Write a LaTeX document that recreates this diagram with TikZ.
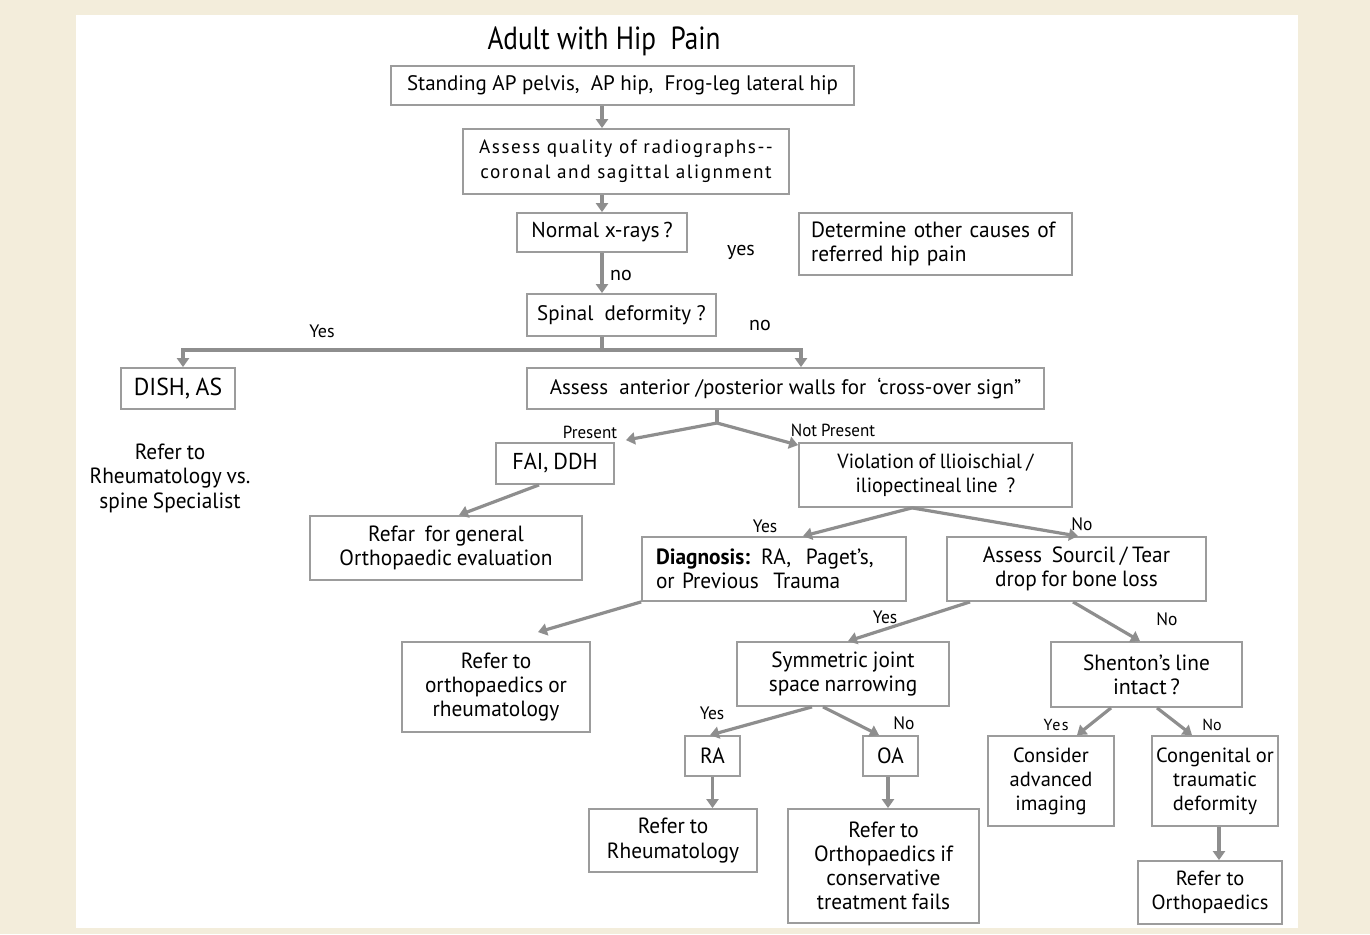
\documentclass[tikz,border=0pt]{standalone}
\usepackage{fontspec}
\setmainfont{PT Sans}
\newfontfamily\nf{PT Sans}
\newfontfamily\cf[FakeStretch=0.97,WordSpace=0.85]{PT Sans}
\newfontfamily\tf[FakeStretch=0.85]{PT Sans}
\newfontfamily\spf[LetterSpace=8]{PT Sans}
\usetikzlibrary{arrows.meta,calc}
\definecolor{bg}{HTML}{F3EDDB}
\definecolor{bord}{HTML}{9C9C9C}
\definecolor{arrc}{HTML}{8E8E8E}
\begin{document}
\begin{tikzpicture}[x=1pt,y=-1pt,
  box/.style={draw=bord, line width=1.8pt, inner sep=0pt, align=center,
    font=\nf\fontsize{21}{24.5}\selectfont},
  cbox/.style={box, font=\cf\fontsize{22}{24.2}\selectfont},
  arr/.style={draw=arrc, line width=3.2pt, -{Triangle[width=12pt,length=9pt]}},
  lin/.style={draw=arrc, line width=3.2pt},
  lab/.style={font=\cf\fontsize{18}{20}\selectfont, inner sep=0pt},
  nlab/.style={font=\nf\fontsize{20}{22}\selectfont, inner sep=0pt},
  plain/.style={font=\cf\fontsize{22}{24.5}\selectfont, align=center, inner sep=0pt}]
\fill[bg] (0,0) rectangle (1370,934);
\fill[white] (76,15) rectangle (1298,928);
\useasboundingbox (0,0) rectangle (1370,934);

\node[font=\tf\fontsize{32}{34}\selectfont, inner sep=0pt] (title) at (604,41) {Adult with Hip\ \ Pain};

\node[box, minimum width=463pt, minimum height=39pt] (n1) at (622.5,85.5)
  {Standing AP pelvis,\ \ AP hip,\ \ Frog-leg lateral hip};
\node[box, minimum width=326pt, minimum height=65pt, font=\spf\fontsize{19.2}{25}\selectfont] (n2) at (626,161.5)
  {Assess quality of radiographs--\\coronal and sagittal alignment};
\node[box, minimum width=170pt, minimum height=39pt, font=\nf\fontsize{21.5}{24}\selectfont] (n3) at (602,232.5) {Normal x-rays\,?};
\node[cbox, minimum height=62pt, text width=249pt, inner xsep=12pt, align=left] (n4) at (935.5,244)
  {Determine other causes of\\referred hip pain};
\node[box, minimum width=189pt, minimum height=42pt] (n5) at (621.5,315) {Spinal\ \ deformity ?};
\node[cbox, minimum width=114pt, minimum height=41pt, font=\cf\fontsize{24.5}{26}\selectfont] (n6) at (178,388.5) {DISH, AS};
\node[plain] (n7) at (170,478) {Refer to\\Rheumatology vs.\\spine Specialist};
\node[box, minimum width=517pt, minimum height=41pt] (n8) at (785.5,388.5)
  {Assess\ \ anterior /posterior walls for\ \ ‘cross-over sign”};
\node[cbox, minimum width=118pt, minimum height=41pt, font=\cf\fontsize{23}{25}\selectfont] (n9) at (555,463.5) {FAI, DDH};
\node[cbox, minimum width=273pt, minimum height=64pt, font=\cf\fontsize{20.5}{24.5}\selectfont] (n10) at (935.5,475)
  {Violation of llioischial /\\iliopectineal line\ \ ?};
\node[cbox, minimum width=272pt, minimum height=64pt] (n11) at (446,548)
  {Refar\ \ for general\\Orthopaedic evaluation};
\node[cbox, minimum height=64pt, text width=236pt, inner xsep=14pt, align=left] (n12) at (774,569)
  {\textbf{Diagnosis:} RA,\ \ Paget’s,\\or Previous\ \ Trauma};
\node[cbox, minimum width=259pt, minimum height=64pt] (n13) at (1076.5,569)
  {Assess\ \ Sourcil / Tear\\drop for bone loss};
\node[cbox, minimum width=188pt, minimum height=90pt] (n14) at (496,687)
  {Refer to\\orthopaedics or\\rheumatology};
\node[cbox, minimum width=212pt, minimum height=64pt] (n15) at (843,674)
  {Symmetric joint\\space narrowing};
\node[cbox, minimum width=191pt, minimum height=65pt] (n16) at (1146.5,674.5)
  {Shenton’s line\\{\nf intact\,?}};
\node[cbox, minimum width=55pt, minimum height=40pt] (n17) at (712.5,756) {RA};
\node[cbox, minimum width=55pt, minimum height=40pt] (n18) at (890.5,756) {OA};
\node[box, minimum width=126pt, minimum height=90pt, font=\nf\fontsize{20.5}{24}\selectfont] (n19) at (1051,781)
  {Consider\\advanced\\imaging};
\node[box, minimum width=126pt, minimum height=90pt, font=\nf\fontsize{20.5}{24}\selectfont] (n20) at (1215,781)
  {Congenital or\\traumatic\\deformity};
\node[cbox, minimum width=168pt, minimum height=63pt] (n21) at (673,840.5)
  {Refer to\\Rheumatology};
\node[cbox, minimum width=191pt, minimum height=114pt] (n22) at (883.5,866)
  {Refer to\\Orthopaedics if\\conservative\\treatment fails};
\node[box, minimum width=144pt, minimum height=63pt, font=\nf\fontsize{20.5}{24}\selectfont] (n23) at (1210,892.5)
  {Refer to\\Orthopaedics};

% labels
\node[nlab] (l1) at (621,275) {no};
\node[nlab] (l2) at (741,252) {yes};
\node[nlab, font=\nf\fontsize{18}{20}\selectfont] (l3) at (322,331) {Yes};
\node[nlab] (l4) at (760,325) {no};
\node[lab, font=\cf\fontsize{17.5}{19}\selectfont] (l5) at (590,432) {Present};
\node[lab, font=\cf\fontsize{17.5}{19}\selectfont] (l6) at (833,430) {Not Present};
\node[lab] (l7) at (765,526) {Yes};
\node[lab] (l8) at (1082,524) {No};
\node[lab] (l9) at (885,617) {Yes};
\node[lab] (l10) at (1167,619) {No};
\node[lab] (l11) at (712,713) {Yes};
\node[lab] (l12) at (904,723) {No};
\node[nlab, font=\spf\fontsize{16}{18}\selectfont] (l13) at (1056,725) {Yes};
\node[nlab, font=\nf\fontsize{16}{18}\selectfont] (l14) at (1212,725) {No};

% connectors
\draw[arr] (n1.south -| n3) -- (n2.north -| n3);
\draw[arr] (n2.south -| n3) -- (n3.north);
\draw[arr] (n3.south) -- (n5.north -| n3);
\coordinate (j1) at (602,350);
\draw[lin] (n5.south -| j1) -- (j1);
\draw[arr] (j1) -| ([xshift=5pt]n6.north);
\draw[arr] (j1) -| ([xshift=15.5pt]n8.north);
\coordinate (j2) at (717,423);
\draw[lin] (n8.south -| j2) -- (j2);
\draw[arr] (j2) -- ([xshift=11pt,yshift=2pt]n9.north east);
\draw[arr] (j2) -- ([yshift=-3pt]n10.north west);
\draw[arr] ([xshift=-16pt]n9.south) -- ([xshift=13pt]n11.north);
\coordinate (j3) at ([xshift=-23.5pt]n10.south);
\draw[arr] (j3) -- ([xshift=29pt]n12.north);
\draw[arr] (j3) -- ([xshift=1.5pt]n13.north);
\draw[arr] (n12.south west) -- ([xshift=42pt,yshift=9pt]n14.north);
\draw[arr] ([xshift=-106.5pt]n13.south) -- ([xshift=5pt]n15.north);
\draw[arr] ([xshift=-3.5pt]n13.south) -- ([xshift=-6.5pt]n16.north);
\draw[arr] ([xshift=-31pt]n15.south) -- ([xshift=-2.5pt]n17.north);
\draw[arr] ([xshift=-20pt]n15.south) -- ([xshift=-11.5pt]n18.north);
\draw[arr] (n17.south) -- (n21.north -| n17);
\coordinate (a18) at ([xshift=-2.5pt]n18.south);
\draw[arr] (a18) -- (n22.north -| a18);
\draw[arr] ([xshift=-35.5pt]n16.south) -- ([xshift=26pt]n19.north);
\draw[arr] ([xshift=10.5pt]n16.south) -- ([xshift=-23pt]n20.north);
\coordinate (a20) at ([xshift=4pt]n20.south);
\draw[arr] (a20) -- (n23.north -| a20);
\end{tikzpicture}
\end{document}
